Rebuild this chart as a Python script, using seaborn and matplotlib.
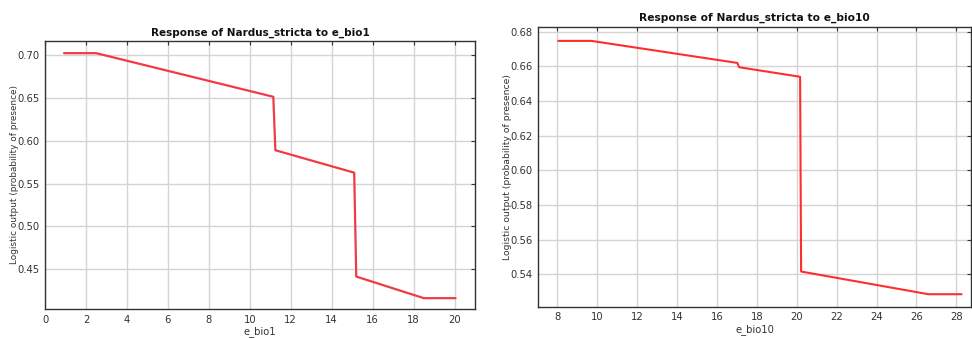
import matplotlib
matplotlib.use("Agg")
import matplotlib.pyplot as plt
import seaborn as sns
import pandas as pd

# Response curve e_bio1
bio1_x = [0.93, 2.5, 11.15, 11.25, 15.1, 15.2, 18.5, 20.05]
bio1_y = [0.7027, 0.7027, 0.6516, 0.589, 0.5627, 0.441, 0.4157, 0.4157]
bio1_xticks = [0, 2, 4, 6, 8, 10, 12, 14, 16, 18, 20]
bio1_yticks = [0.45, 0.50, 0.55, 0.60, 0.65, 0.70]

# Response curve e_bio10
bio10_x = [8.05, 9.72, 17.02, 17.12, 20.17, 20.22, 26.6, 28.26]
bio10_y = [0.6747, 0.6747, 0.6620, 0.6595, 0.6540, 0.5416, 0.5285, 0.5285]
bio10_xticks = [8, 10, 12, 14, 16, 18, 20, 22, 24, 26, 28]
bio10_yticks = [0.54, 0.56, 0.58, 0.60, 0.62, 0.64, 0.66, 0.68]

sns.set_theme(style="whitegrid")
plt.rcParams['font.family'] = ['DejaVu Sans']

fig = plt.figure(figsize=(9.72, 3.38), dpi=100)
ax1 = fig.add_axes([0.0463, 0.0858, 0.4424, 0.793])
ax2 = fig.add_axes([0.5538, 0.0926, 0.4455, 0.8284])

df1 = pd.DataFrame({"x": bio1_x, "y": bio1_y})
df2 = pd.DataFrame({"x": bio10_x, "y": bio10_y})

sns.lineplot(data=df1, x="x", y="y", ax=ax1, sort=False, estimator=None,
             color="#f03a44", linewidth=1.6)
sns.lineplot(data=df2, x="x", y="y", ax=ax2, sort=False, estimator=None,
             color="#ff2e2e", linewidth=1.5)

configs = [
    (ax1, "Response of Nardus_stricta to e_bio1", "e_bio1", bio1_xticks, bio1_yticks,
     (0, 21.0), (0.403, 0.717), 7.5, 6.4),
    (ax2, "Response of Nardus_stricta to e_bio10", "e_bio10", bio10_xticks, bio10_yticks,
     (7.05, 28.75), (0.5213, 0.6829), 7.7, 6.7),
]
for ax, title, xlabel, xt, yt, xl, yl, tfs, yfs in configs:
    ax.set_facecolor("white")
    ax.set_xlim(*xl)
    ax.set_ylim(*yl)
    ax.set_xticks(xt)
    ax.set_xticklabels([str(v) for v in xt])
    ax.set_yticks(yt)
    ax.set_yticklabels(["{:.2f}".format(v) for v in yt])
    ax.grid(True, color="#d4d4d4", linewidth=1.0)
    ax.set_title(title, fontsize=tfs, fontweight="bold", pad=4, color="#111111")
    ax.set_xlabel(xlabel, fontsize=7.2, color="#333333", labelpad=1)
    ax.set_ylabel("Logistic output (probability of presence)", fontsize=yfs,
                  color="#333333", labelpad=-1)
    ax.tick_params(axis="both", labelsize=7.2, colors="#333333", direction="in",
                   length=3, width=0.8, top=True, right=True, pad=4)
    for s in ax.spines.values():
        s.set_visible(True)
        s.set_color("#333333")
        s.set_linewidth(1.0)

fig.savefig("out.png", dpi=100)
